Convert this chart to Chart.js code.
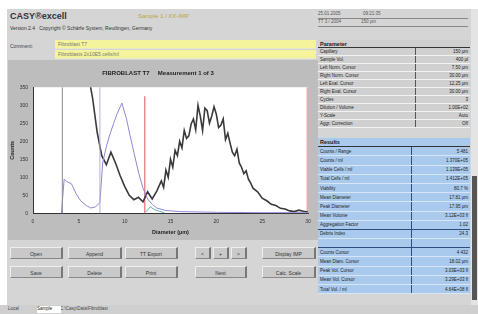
<!DOCTYPE html>
<html lang="en">
<head>
<meta charset="UTF-8">
<title>CASY excell</title>
<script src="https://cdn.jsdelivr.net/npm/chart.js"></script>
<style>
    body { margin: 0; width: 478px; height: 314px; overflow: hidden; background: #fff;
           font-family: "Liberation Sans", Arial, sans-serif; color: #222; position: relative; }
    .abs { position: absolute; }
    #win { left: 7px; top: 9px; width: 464px; height: 296px; background: #d5d5d5; }
    #plotPanel { left: 8px; top: 60px; width: 310px; height: 180px; background: #bdbdbd; }
    .yellow { background: #f4f49c; height: 8px; font-size: 5px; line-height: 8px; padding-left: 3px; color: #777;
              border-bottom: 1px solid #e8e8c8; }
    .btn { height: 12px; background: #c9c9c9; border-right: 2px solid #777; border-bottom: 1px solid #888;
           border-top: 1px solid #eee; border-left: 1px solid #eee; font-size: 5px; line-height: 12px;
           text-align: center; color: #333; box-sizing: border-box; }
    table { border-collapse: collapse; font-size: 4.5px; }
    td { height: 7px; padding: 0 2px; white-space: nowrap; }
    #param { left: 318px; top: 40px; width: 152px; background: #d0d0d0; }
    #param td { border-bottom: 1px solid #f2f2f2; }
    #param td.c1 { border-right: 1px solid #555; }
    #results { left: 318px; top: 138px; width: 152px; background: #a9caec; }
    #results td { height: 8.2px; border-bottom: 1px solid #d6e6f6; }
    #results td.c1 { border-right: 1px solid #2d4f80; }
    #results tr.sep td { border-bottom: 1px solid #2d4f80; }
    .hdr { font-weight: bold; font-size: 5.5px; border-bottom: 1px solid #333 !important; }
    .r { text-align: right; }
</style>
</head>
<body>
<div id="win" class="abs"></div>
<div class="abs" style="left:10px;top:11px;font-size:9px;font-weight:bold;color:#333;">CASY&reg;excell</div>
<div class="abs" style="left:138px;top:13px;font-size:6px;color:#b8a640;">Sample 1 / XX-IMP</div>
<div class="abs" style="left:10px;top:25px;font-size:5px;color:#333;">Version 2.4 &nbsp; Copyright &copy; Sch&auml;rfe System, Reutlingen, Germany</div>
<div class="abs" style="left:10px;top:43px;font-size:5px;color:#444;">Comment:</div>
<div class="abs yellow" style="left:55px;top:40px;width:258px;">Fibroblast T7</div>
<div class="abs yellow" style="left:55px;top:50px;width:258px;">Fibroblasts 2x10E5 cells/ml</div>

<div class="abs" style="left:318px;top:11px;width:150px;font-size:4.5px;color:#555;">
    <div style="border-bottom:1px solid #888;height:7px;">25.01.2005 &nbsp;&nbsp;&nbsp;&nbsp;&nbsp;&nbsp;&nbsp;&nbsp;&nbsp;&nbsp;&nbsp;&nbsp;&nbsp;&nbsp;&nbsp;&nbsp; 09:21:35</div>
    <div style="border-bottom:1px solid #888;height:7px;">TT 3 / 2004 &nbsp;&nbsp;&nbsp;&nbsp;&nbsp;&nbsp;&nbsp;&nbsp;&nbsp;&nbsp;&nbsp;&nbsp;&nbsp;&nbsp; 150 &micro;m</div>
</div>

<div id="plotPanel" class="abs">
    <canvas id="casyChart" width="310" height="180"></canvas>
</div>

<table id="param" class="abs">
    <tr><td class="hdr" colspan="2">Parameter</td></tr>
    <tr><td class="c1">Capillary</td><td class="r">150 &micro;m</td></tr>
    <tr><td class="c1">Sample Vol.</td><td class="r">400 &micro;l</td></tr>
    <tr><td class="c1">Left Norm. Cursor</td><td class="r">7.50 &micro;m</td></tr>
    <tr><td class="c1">Right Norm. Cursor</td><td class="r">30.00 &micro;m</td></tr>
    <tr><td class="c1">Left Eval. Cursor</td><td class="r">12.25 &micro;m</td></tr>
    <tr><td class="c1">Right Eval. Cursor</td><td class="r">30.00 &micro;m</td></tr>
    <tr><td class="c1">Cycles</td><td class="r">3</td></tr>
    <tr><td class="c1">Dilution / Volume</td><td class="r">1.00E+02</td></tr>
    <tr><td class="c1">Y-Scale</td><td class="r">Auto</td></tr>
    <tr><td class="c1">Aggr. Correction</td><td class="r">Off</td></tr>
</table>

<table id="results" class="abs">
    <tr><td class="hdr" colspan="2">Results</td></tr>
    <tr><td class="c1">Counts / Range</td><td class="r">5 481</td></tr>
    <tr><td class="c1">Counts / ml</td><td class="r">1.370E+05</td></tr>
    <tr><td class="c1">Viable Cells / ml</td><td class="r">1.139E+05</td></tr>
    <tr><td class="c1">Total Cells / ml</td><td class="r">1.412E+05</td></tr>
    <tr><td class="c1">Viability</td><td class="r">80.7 %</td></tr>
    <tr><td class="c1">Mean Diameter</td><td class="r">17.81 &micro;m</td></tr>
    <tr><td class="c1">Peak Diameter</td><td class="r">17.95 &micro;m</td></tr>
    <tr><td class="c1">Mean Volume</td><td class="r">3.12E+03 fl</td></tr>
    <tr class="sep"><td class="c1">Aggregation Factor</td><td class="r">1.02</td></tr>
    <tr><td class="c1">Debris Index</td><td class="r">24.3</td></tr>
    <tr class="sep"><td class="c1">&nbsp;</td><td class="r"></td></tr>
    <tr><td class="c1">Counts Cursor</td><td class="r">4 432</td></tr>
    <tr><td class="c1">Mean Diam. Cursor</td><td class="r">18.02 &micro;m</td></tr>
    <tr><td class="c1">Peak Vol. Cursor</td><td class="r">3.03E+03 fl</td></tr>
    <tr><td class="c1">Mean Vol. Cursor</td><td class="r">3.29E+03 fl</td></tr>
    <tr><td class="c1">Total Vol. / ml</td><td class="r">4.64E+08 fl</td></tr>
</table>

<div class="abs" style="left:471px;top:9px;width:7px;height:296px;background:#e4e4e4;"></div>
<div class="abs" style="left:472px;top:176px;width:5px;height:124px;background:#555;"></div>

<div class="abs btn" style="left:10px;top:247px;width:53px;">Open</div>
<div class="abs btn" style="left:68px;top:247px;width:54px;">Append</div>
<div class="abs btn" style="left:125px;top:247px;width:53px;">TT Export</div>
<div class="abs btn" style="left:195px;top:247px;width:16px;">&lt;</div>
<div class="abs btn" style="left:213px;top:247px;width:16px;">+</div>
<div class="abs btn" style="left:231px;top:247px;width:16px;">&gt;</div>
<div class="abs btn" style="left:262px;top:247px;width:54px;">Display IMP</div>
<div class="abs btn" style="left:10px;top:266px;width:53px;">Save</div>
<div class="abs btn" style="left:68px;top:266px;width:54px;">Delete</div>
<div class="abs btn" style="left:125px;top:266px;width:53px;">Print</div>
<div class="abs btn" style="left:195px;top:266px;width:52px;">Next</div>
<div class="abs btn" style="left:262px;top:266px;width:54px;">Calc. Scale</div>

<div class="abs" style="left:0;top:305px;width:478px;height:9px;background:#cfcfcf;"></div>
<div class="abs" style="left:8px;top:306px;font-size:4.5px;color:#444;">Local &nbsp;&nbsp;&nbsp;&nbsp;&nbsp;&nbsp;&nbsp;&nbsp;&nbsp;&nbsp;&nbsp;&nbsp;&nbsp; Files Path: C:\Casy\Data\Fibroblast</div>
<div class="abs" style="left:37px;top:306px;width:24px;height:7px;background:#fff;font-size:4.5px;">Sample</div>

<script>
    // x axis: diameter in um, y axis: counts
    const xTicks = [0, 5, 10, 15, 20, 25, 30];
    const yTicks = [0, 50, 100, 150, 200, 250, 300, 350];

    // measured size distribution (black)
    const diameterMain = [6.0, 6.5, 7.0, 7.5, 8.0, 8.5, 9.0, 9.5, 10.0, 10.5, 11.0, 11.5, 12.0, 12.5, 13.0, 13.5,
        14.0, 14.25, 14.5, 14.75, 15.0, 15.25, 15.5, 15.75, 16.0, 16.25, 16.5, 16.75, 17.0, 17.25, 17.5, 17.75,
        18.0, 18.25, 18.5, 18.75, 19.0, 19.25, 19.5, 19.75, 20.0, 20.25, 20.5, 20.75, 21.0, 21.25, 21.5, 21.75,
        22.0, 22.25, 22.5, 22.75, 23.0, 23.25, 23.5, 23.75, 24.0, 24.5, 25.0, 25.5, 26.0, 26.5, 27.0, 27.5,
        28.0, 28.5, 29.0, 29.5, 30.0];
    const countsMain = [390, 320, 225, 160, 135, 170, 140, 105, 75, 50, 38, 45, 32, 60, 40, 62,
        90, 72, 120, 100, 150, 128, 175, 160, 200, 182, 230, 208, 215, 248, 262, 232,
        300, 270, 230, 292, 285, 250, 270, 296, 275, 238, 245, 262, 205, 222, 195, 170,
        160, 178, 140, 128, 110, 118, 95, 84, 70, 60, 42, 35, 25, 22, 14, 12,
        7, 5, 9, 6, 4];

    // second distribution (lavender)
    const diameterOverlay = [3.1, 3.4, 3.7, 4.2, 4.7, 5.2, 5.8, 6.3, 6.8, 7.3, 7.6, 8.0, 8.4, 8.8, 9.2, 9.7,
        10.2, 10.6, 11.0, 11.5, 12.0, 12.5, 13.0, 13.5, 14.5, 16.0, 20.0, 25.0, 30.0];
    const countsOverlay = [0, 95, 88, 82, 55, 35, 22, 15, 18, 30, 140, 185, 220, 250, 278, 306,
        262, 215, 170, 115, 70, 40, 25, 15, 8, 5, 3, 2, 2];

    // small teal trace
    const diameterTeal = [12.3, 12.8, 13.3, 13.8, 14.3];
    const countsTeal = [4, 18, 10, 6, 2];

    // cursors
    const cursorGrey = 3.2;
    const cursorLavender = 7.3;
    const cursorRed = 12.2;
    const cursorRedTop = 325;
    const cursorRight = 30;

    function pts(xs, ys) {
        return xs.map((x, i) => ({ x: x, y: ys[i] }));
    }
    function vline(x, top) {
        return [{ x: x, y: 0 }, { x: x, y: top }];
    }

    const whiteArea = {
        id: 'whiteArea',
        beforeDraw(chart) {
            const a = chart.chartArea;
            chart.ctx.save();
            chart.ctx.fillStyle = '#ffffff';
            chart.ctx.fillRect(a.left, a.top, a.right - a.left, a.bottom - a.top);
            chart.ctx.restore();
        }
    };

    const ctx = document.getElementById('casyChart').getContext('2d');
    const casyChart = new Chart(ctx, {
        type: 'line',
        data: {
            datasets: [
                { data: vline(cursorGrey, 350), borderColor: '#8a8a8a', borderWidth: 1 },
                { data: vline(cursorLavender, 350), borderColor: '#b3aedb', borderWidth: 1 },
                { data: pts(diameterOverlay, countsOverlay), borderColor: '#8f88d6', borderWidth: 1 },
                { data: pts(diameterTeal, countsTeal), borderColor: '#5fb3a8', borderWidth: 1 },
                { data: pts(diameterMain, countsMain), borderColor: '#3a3a3a', borderWidth: 1.6 },
                { data: vline(cursorRed, cursorRedTop), borderColor: '#e0505a', borderWidth: 1 },
                { data: vline(cursorRight, 350), borderColor: 'rgba(220,120,120,0.6)', borderWidth: 3 }
            ]
        },
        options: {
            responsive: false,
            animation: false,
            elements: { point: { radius: 0 }, line: { tension: 0 } },
            layout: { padding: { left: 0, right: 10, top: 0, bottom: 0 } },
            plugins: {
                legend: { display: false },
                tooltip: { enabled: false },
                title: {
                    display: true,
                    text: 'FIBROBLAST T7     Measurement 1 of 3',
                    color: '#222',
                    font: { size: 6, weight: 'bold', family: 'Liberation Sans' },
                    padding: { top: 10, bottom: 10 }
                }
            },
            scales: {
                x: {
                    type: 'linear', min: 0, max: 30,
                    afterBuildTicks: s => { s.ticks = xTicks.map(v => ({ value: v })); },
                    grid: { display: false, drawTicks: true, tickLength: 3, tickColor: '#333' },
                    border: { color: '#333' },
                    ticks: { color: '#333', font: { size: 5 }, padding: 2, maxRotation: 0 },
                    title: { display: true, text: 'Diameter (\u00b5m)', color: '#222',
                             font: { size: 5.5, weight: 'bold' }, padding: { top: 3, bottom: 4 } }
                },
                y: {
                    min: 0, max: 350,
                    afterBuildTicks: s => { s.ticks = yTicks.map(v => ({ value: v })); },
                    afterFit: s => { s.width = 25; },
                    grid: { display: false, drawTicks: true, tickLength: 3, tickColor: '#333' },
                    border: { color: '#333' },
                    ticks: { color: '#333', font: { size: 5 }, padding: 2 },
                    title: { display: true, text: 'Counts', color: '#222',
                             font: { size: 5.5, weight: 'bold' }, padding: 1 }
                }
            }
        },
        plugins: [whiteArea]
    });
</script>
</body>
</html>
